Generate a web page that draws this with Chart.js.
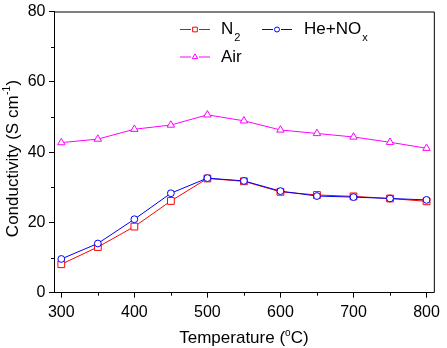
<!DOCTYPE html>
<html>
<head>
<meta charset="utf-8">
<script src="https://cdn.jsdelivr.net/npm/chart.js@4.4.1/dist/chart.umd.min.js"></script>
<style>
  html, body { margin: 0; padding: 0; background: #fff; }
</style>
</head>
<body>
<canvas id="myChart" width="447" height="348"></canvas>
<script>
// values
const temps = [300, 350, 400, 450, 500, 550, 600, 650, 700, 750, 800];
const n2    = [8.1, 13.0, 18.8, 26.1, 32.5, 31.7, 28.7, 27.8, 27.4, 26.8, 26.0];
const heNox = [9.6, 14.0, 20.9, 28.3, 32.6, 31.8, 28.9, 27.5, 27.2, 26.8, 26.4];
const air   = [42.7, 43.7, 46.5, 47.7, 50.6, 48.9, 46.3, 45.3, 44.3, 42.8, 41.1];

const xTicks = [300, 400, 500, 600, 700, 800];
const xMinor = [350, 450, 550, 650, 750];
const yTicks = [0, 20, 40, 60, 80];
const yMinor = [10, 30, 50, 70];

const RED = '#ff0000', BLUE = '#0000ff', MAGENTA = '#ff00ff';
const FONT = 'Arial, "Liberation Sans", sans-serif';

function pts(ys) {
  return temps.map((t, i) => ({ x: t, y: ys[i] }));
}

// legend, axis titles, box and minor ticks
const extras = {
  id: 'extras',
  afterDraw(chart) {
    const ctx = chart.ctx;
    const a = chart.chartArea;
    const xs = chart.scales.x, ys = chart.scales.y;
    ctx.save();
    ctx.strokeStyle = '#000';
    ctx.lineWidth = 1;
    // top and right sides of the frame
    ctx.beginPath();
    ctx.moveTo(a.left, a.top + 0.5);
    ctx.lineTo(a.right + 0.5, a.top + 0.5);
    ctx.lineTo(a.right + 0.5, a.bottom);
    ctx.stroke();
    // minor ticks
    ctx.beginPath();
    xMinor.forEach(v => {
      const px = Math.round(xs.getPixelForValue(v)) + 0.5;
      ctx.moveTo(px, a.bottom);
      ctx.lineTo(px, a.bottom + 3);
    });
    yMinor.forEach(v => {
      const py = Math.round(ys.getPixelForValue(v)) + 0.5;
      ctx.moveTo(a.left, py);
      ctx.lineTo(a.left - 3, py);
    });
    ctx.stroke();

    // legend
    ctx.textBaseline = 'alphabetic';
    const items = [
      { color: RED, style: 'rect', r: 3.3, x: 180, y: 29.5, text: 'N', sub: '2', tx: 221, base: 34 },
      { color: BLUE, style: 'circle', r: 2.5, x: 262, y: 29.5, text: 'He+NO', sub: 'x', tx: 304, base: 34 },
      { color: MAGENTA, style: 'triangle', r: 3.2, x: 180, y: 57, text: 'Air', sub: '', tx: 221, base: 62 }
    ];
    items.forEach(it => {
      ctx.strokeStyle = it.color;
      ctx.lineWidth = 1;
      ctx.beginPath();
      ctx.moveTo(it.x, it.y);
      ctx.lineTo(it.x + 11, it.y);
      ctx.moveTo(it.x + 19, it.y);
      ctx.lineTo(it.x + 30, it.y);
      ctx.stroke();
      ctx.fillStyle = '#fff';
      ctx.strokeStyle = it.color;
      Chart.helpers.drawPoint(ctx, {
        pointStyle: it.style, radius: it.r, rotation: 0, borderWidth: 1
      }, it.x + 15, it.y);
      ctx.fillStyle = '#000';
      ctx.font = '17px ' + FONT;
      ctx.textAlign = 'left';
      ctx.fillText(it.text, it.tx, it.base);
      if (it.sub) {
        const w = ctx.measureText(it.text).width;
        ctx.font = '11px ' + FONT;
        ctx.fillText(it.sub, it.tx + w + 1, it.base + 7);
      }
    });

    // x title with superscript degree mark
    ctx.fillStyle = '#000';
    const p1 = 'Temperature (', p3 = 'C)';
    ctx.font = '17px ' + FONT;
    const w1 = ctx.measureText(p1).width, w3 = ctx.measureText(p3).width;
    ctx.font = '10px ' + FONT;
    const w2 = ctx.measureText('o').width;
    const cx = (a.left + a.right) / 2;
    const sx = cx - (w1 + w2 + w3) / 2;
    const xb = 343;
    ctx.textAlign = 'left';
    ctx.font = '17px ' + FONT;
    ctx.fillText(p1, sx, xb);
    ctx.font = '10px ' + FONT;
    ctx.fillText('o', sx + w1, xb - 7.5);
    ctx.font = '17px ' + FONT;
    ctx.fillText(p3, sx + w1 + w2, xb);

    // y title, rotated, with superscript -1
    const q1 = 'Conductivity (S cm', q3 = ')';
    ctx.font = '17px ' + FONT;
    const v1 = ctx.measureText(q1).width, v3 = ctx.measureText(q3).width;
    ctx.font = '10px ' + FONT;
    const v2 = ctx.measureText('-1').width;
    ctx.translate(17.5, 159);
    ctx.rotate(-Math.PI / 2);
    const st = -(v1 + v2 + v3) / 2;
    ctx.font = '17px ' + FONT;
    ctx.fillText(q1, st, 0);
    ctx.font = '10px ' + FONT;
    ctx.fillText('-1', st + v1 + 0.5, -7.5);
    ctx.font = '17px ' + FONT;
    ctx.fillText(q3, st + v1 + v2 + 1, 0);
    ctx.restore();
  }
};

const tickFont = { family: FONT, size: 16, lineHeight: 1 };

const ctx = document.getElementById('myChart').getContext('2d');
const myChart = new Chart(ctx, {
  type: 'line',
  data: {
    datasets: [
      {
        label: 'He+NOx', data: pts(heNox), order: 0,
        borderColor: BLUE, backgroundColor: '#fff', borderWidth: 1,
        pointStyle: 'circle', pointRadius: 3.4, pointBorderColor: BLUE,
        pointBackgroundColor: '#fff', pointBorderWidth: 1
      },
      {
        label: 'N2', data: pts(n2), order: 1,
        borderColor: RED, backgroundColor: '#fff', borderWidth: 1,
        pointStyle: 'rect', pointRadius: 4.8, pointBorderColor: RED,
        pointBackgroundColor: '#fff', pointBorderWidth: 1
      },
      {
        label: 'Air', data: pts(air), order: 2,
        borderColor: MAGENTA, backgroundColor: '#fff', borderWidth: 1,
        pointStyle: 'triangle', pointRadius: 4.3, pointBorderColor: MAGENTA,
        pointBackgroundColor: '#fff', pointBorderWidth: 1
      }
    ]
  },
  options: {
    responsive: false,
    animation: false,
    devicePixelRatio: 1,
    layout: { padding: { left: 0, top: 9, right: 6.3, bottom: 0 } },
    plugins: { legend: { display: false }, tooltip: { enabled: false } },
    scales: {
      x: {
        type: 'linear', min: 290, max: 810,
        afterBuildTicks: s => { s.ticks = xTicks.map(v => ({ value: v })); },
        afterFit: s => { s.height = 55.3; },
        grid: { drawOnChartArea: false, tickLength: 5, color: '#000', lineWidth: 1 },
        border: { color: '#000', width: 1 },
        ticks: { font: tickFont, color: '#000', padding: 7, maxRotation: 0, autoSkip: false }
      },
      y: {
        type: 'linear', min: 0, max: 80,
        afterBuildTicks: s => { s.ticks = yTicks.map(v => ({ value: v })); },
        afterFit: s => { s.width = 54; },
        grid: { drawOnChartArea: false, tickLength: 5, color: '#000', lineWidth: 1 },
        border: { color: '#000', width: 1 },
        ticks: { font: tickFont, color: '#000', padding: 3.5 }
      }
    }
  },
  plugins: [extras]
});
</script>
</body>
</html>
